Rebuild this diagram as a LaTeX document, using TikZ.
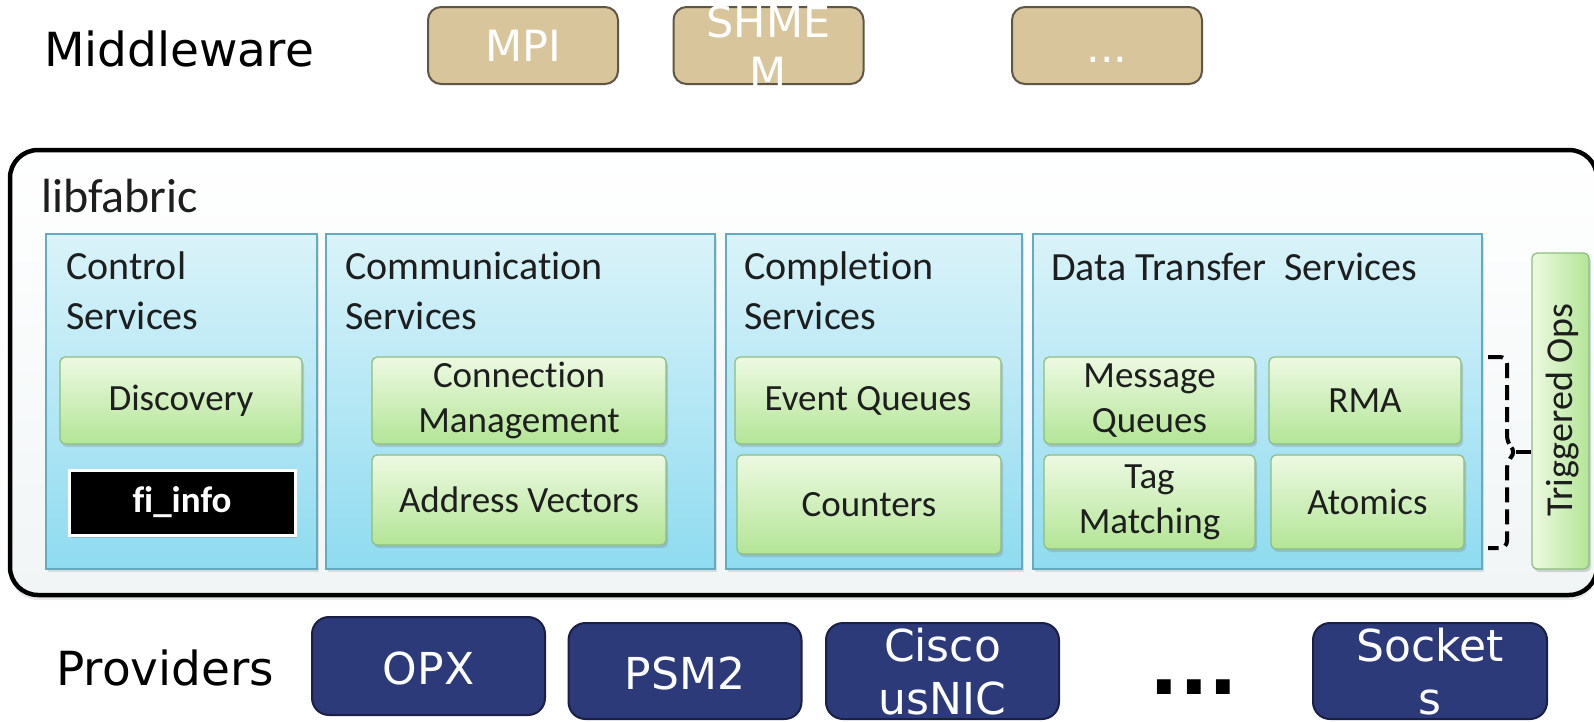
\documentclass[tikz,border=0pt]{standalone}
\usepackage{fontspec}
\usetikzlibrary{shadows}
\newfontfamily\dvsfont{DejaVu Sans}
\newfontfamily\calfont[Ligatures=NoCommon]{Carlito}
\definecolor{mwfill}{HTML}{D8C59C}
\definecolor{mwedge}{HTML}{5F5645}
\definecolor{pvfill}{HTML}{2D3A7A}
\definecolor{pvedge}{HTML}{1A1F45}
\definecolor{svctop}{HTML}{DAF3F9}
\definecolor{svcbot}{HTML}{8FDBF0}
\definecolor{svcedge}{HTML}{65ABC0}
\definecolor{gtop}{HTML}{EDF9E2}
\definecolor{gbot}{HTML}{B3E596}
\definecolor{gedge}{HTML}{8CBD7D}
\definecolor{ink}{HTML}{1E1E1E}
\definecolor{framebot}{HTML}{F1F5F6}
\begin{document}
\begin{tikzpicture}[x=1pt,y=-1pt,
  layerlabel/.style={anchor=west, inner sep=0pt, text=black, font=\dvsfont\fontsize{47}{56}\selectfont},
  mwbox/.style={draw=mwedge, line width=2pt, fill=mwfill, rounded corners=13pt,
    minimum width=190pt, minimum height=77pt, inner sep=0pt},
  mwtext/.style={text=white, inner sep=0pt, align=center, font=\dvsfont\fontsize{43}{51}\selectfont},
  pvbox/.style={draw=pvedge, line width=2pt, fill=pvfill, rounded corners=17pt,
    minimum width=233pt, minimum height=96pt, inner sep=0pt},
  pvtext/.style={text=white, inner sep=0pt, align=center, font=\dvsfont\fontsize{44}{53}\selectfont},
  svc/.style={draw=svcedge, line width=1.5pt, top color=svctop, bottom color=svcbot,
    minimum height=335pt, inner sep=0pt,
    drop shadow={opacity=0.22, shadow xshift=1.5pt, shadow yshift=-3pt}},
  svctitle/.style={inner sep=0pt, align=left, text=ink, font=\calfont\fontsize{40}{50}\selectfont},
  gbox/.style={draw=gedge, line width=1.2pt, top color=gtop, bottom color=gbot,
    rounded corners=5pt, inner sep=0pt, align=center, text=ink,
    font=\calfont\fontsize{37}{45}\selectfont,
    drop shadow={opacity=0.3, shadow xshift=2pt, shadow yshift=-3pt}},
  bracket/.style={draw=black, line width=4pt, dash pattern=on 15pt off 7pt}]

\useasboundingbox (0,0) rectangle (1594,721);
\fill[white] (0,0) rectangle (1594,721);

% ---- middleware row ----
\node[layerlabel] (mwlabel) at (44,49) {Middleware};
\node[mwbox] (mpi) at (523,45.5) {};
\node[mwtext] (mpi-t) at (mpi.center) {MPI};
\node[mwbox] (shmem) at (768.5,45.5) {};
\node[mwtext] (shmem-t) at (768.5,47.5) {SHME\\M};
\node[mwbox] (mwmore) at (1107,45.5) {};
\node[mwtext, anchor=base] (mwmore-t) at (1107,62) {...};

% ---- libfabric frame ----
\node[draw=black, line width=4.5pt, rounded corners=28pt, top color=white, bottom color=framebot,
  minimum width=1587pt, minimum height=445pt, inner sep=0pt,
  drop shadow={opacity=0.18, shadow xshift=0pt, shadow yshift=-5pt}] (frame) at (803.5,372.5) {};
\node[anchor=base west, inner sep=0pt, text=ink, font=\calfont\fontsize{48}{56}\selectfont] (libfab) at (41,212) {libfabric};

% ---- service groups ----
\node[svc, minimum width=271pt] (ctrl) at (181.5,401.5) {};
\node[svc, minimum width=389pt] (comm) at (520.5,401.5) {};
\node[svc, minimum width=296pt] (compl) at (874,401.5) {};
\node[svc, minimum width=449pt] (data) at (1257.5,401.5) {};

\node[svctitle, anchor=west] (ctrl-t) at (66,291) {Control\\Services};
\node[svctitle, anchor=west] (comm-t) at (345,291) {Communication\\Services};
\node[svctitle, anchor=west] (compl-t) at (744,291) {Completion\\Services};
\node[svctitle, anchor=base west] (data-t) at (1051,280) {Data Transfer\ \ Services};

% ---- control services ----
\node[gbox, minimum width=242pt, minimum height=87pt] (discovery) at (181,400.5) {Discovery};
\node[draw=white, line width=3pt, fill=black, minimum width=226pt, minimum height=65pt, inner sep=0pt,
  text=white, font=\calfont\bfseries\fontsize{37}{45}\selectfont,
  drop shadow={opacity=0.35, shadow xshift=2pt, shadow yshift=-3pt}] (fiinfo) at (182,502.5) {fi\_info};

% ---- communication services ----
\node[gbox, minimum width=294pt, minimum height=87pt] (connmgmt) at (519,400.5) {Connection\\Management};
\node[gbox, minimum width=294pt, minimum height=90pt] (addrvec) at (519,500) {Address Vectors};

% ---- completion services ----
\node[gbox, minimum width=266pt, minimum height=87pt] (eventq) at (868,400.5) {Event Queues};
\node[gbox, minimum width=264pt, minimum height=99pt] (counters) at (869,504.5) {Counters};

% ---- data transfer services ----
\node[gbox, minimum width=211pt, minimum height=87pt] (msgq) at (1149.5,400.5) {Message\\Queues};
\node[gbox, minimum width=192pt, minimum height=87pt] (rma) at (1365,400.5) {RMA};
\node[gbox, minimum width=211pt, minimum height=94pt] (tagm) at (1149.5,502) {Tag\\Matching};
\node[gbox, minimum width=193pt, minimum height=94pt] (atomics) at (1367.5,502) {Atomics};

% ---- triggered operations ----
\node[gbox, left color=gtop, right color=gbot, minimum width=57pt, minimum height=316pt] (trig) at (1560.5,411) {};
\node[inner sep=0pt, rotate=90, text=ink, font=\calfont\fontsize{38}{45}\selectfont] (trig-t) at (1563,410) {Triggered Ops};

\coordinate (brT) at (1488,357);
\coordinate (brB) at (1488,548);
\coordinate (brM) at (1516,452);
\draw[bracket, rounded corners=7pt] (brT) -- (1507,357) -- (1507,443) -- (brM) -- (1507,461) -- (1507,548) -- (brB);
\draw[bracket] (brM) -- (trig.west |- brM);

% ---- providers row ----
\node[layerlabel] (pvlabel) at (56,668) {Providers};
\node[pvbox, minimum height=98pt] (opx) at (428.5,666) {};
\node[pvtext] (opx-t) at (428.5,668) {OPX};
\node[pvbox] (psm2) at (685,671) {};
\node[pvtext] (psm2-t) at (685,673) {PSM2};
\node[pvbox] (usnic) at (942.5,671) {};
\node[pvtext] (usnic-t) at (942.5,672) {Cisco\\usNIC};
\node[inner sep=0pt, anchor=base, text=black, font=\dvsfont\bfseries\fontsize{78}{80}\selectfont] (pvmore) at (1194,694) {...};
\node[pvbox, minimum width=234pt] (sockets) at (1430,671) {};
\node[pvtext] (sockets-t) at (1430,672) {Socket\\s};
\end{tikzpicture}
\end{document}
